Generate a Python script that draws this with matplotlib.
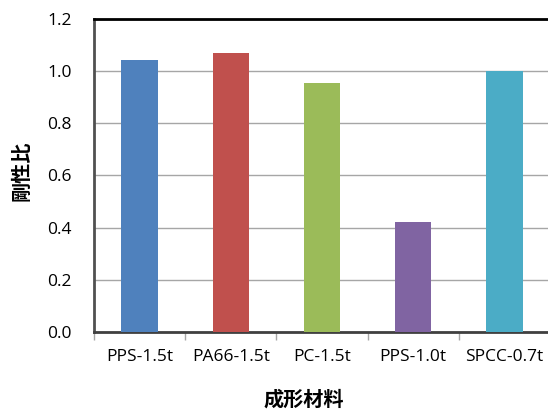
import matplotlib
matplotlib.use("Agg")
import matplotlib.pyplot as plt

categories = ["PPS-1.5t", "PA66-1.5t", "PC-1.5t", "PPS-1.0t", "SPCC-0.7t"]
values = [1.043, 1.07, 0.955, 0.42, 1.0]
colors = ["#4F81BD", "#C0504D", "#9BBB59", "#8064A2", "#4BACC6"]
yticks = [0.0, 0.2, 0.4, 0.6, 0.8, 1.0, 1.2]

plt.rcParams['font.family'] = ['Open Sans', 'Noto Sans CJK JP', 'DejaVu Sans']

fig = plt.figure(figsize=(5.48, 4.09), dpi=100)
ax = fig.add_axes([94 / 548, 1 - 332 / 409, (550 - 94) / 548, (332 - 19) / 409])

x = list(range(len(categories)))
ax.bar(x, values, width=0.4, color=colors, zorder=3)

ax.set_xlim(-0.5, len(categories) - 0.5)
ax.set_ylim(0, 1.2)
ax.set_yticks(yticks)
ax.set_yticklabels([f"{v:.1f}" for v in yticks], fontsize=12.5)
ax.set_xticks(x)
ax.set_xticklabels(categories, fontsize=12.5)
ax.tick_params(axis='x', length=0, pad=12)
ax.tick_params(axis='y', length=0, pad=16)
ax.set_xticks([i - 0.5 for i in range(len(categories) + 1)], minor=True)
ax.tick_params(axis='x', which='minor', length=6, width=1, color='#A6A6A6', direction='out')

ax.grid(axis='y', color='#A6A6A6', linewidth=1, zorder=0)
ax.set_axisbelow(True)

ax.spines['top'].set_color('black')
ax.spines['top'].set_linewidth(2)
ax.spines['left'].set_color('#505050')
ax.spines['left'].set_linewidth(2)
ax.spines['bottom'].set_color('#404040')
ax.spines['bottom'].set_linewidth(2)
ax.spines['right'].set_visible(False)

fig.text(304 / 548, 1 - 399 / 409, "成形材料", ha='center', va='center',
         fontsize=14.5, fontweight='bold', family=['Noto Sans CJK JP', 'DejaVu Sans'])
fig.text(21 / 548, 1 - 171 / 409, "剛性比", ha='center', va='center', rotation=90,
         fontsize=14.5, fontweight='bold', family=['Noto Sans CJK JP', 'DejaVu Sans'])

fig.savefig("out.png", dpi=100)
